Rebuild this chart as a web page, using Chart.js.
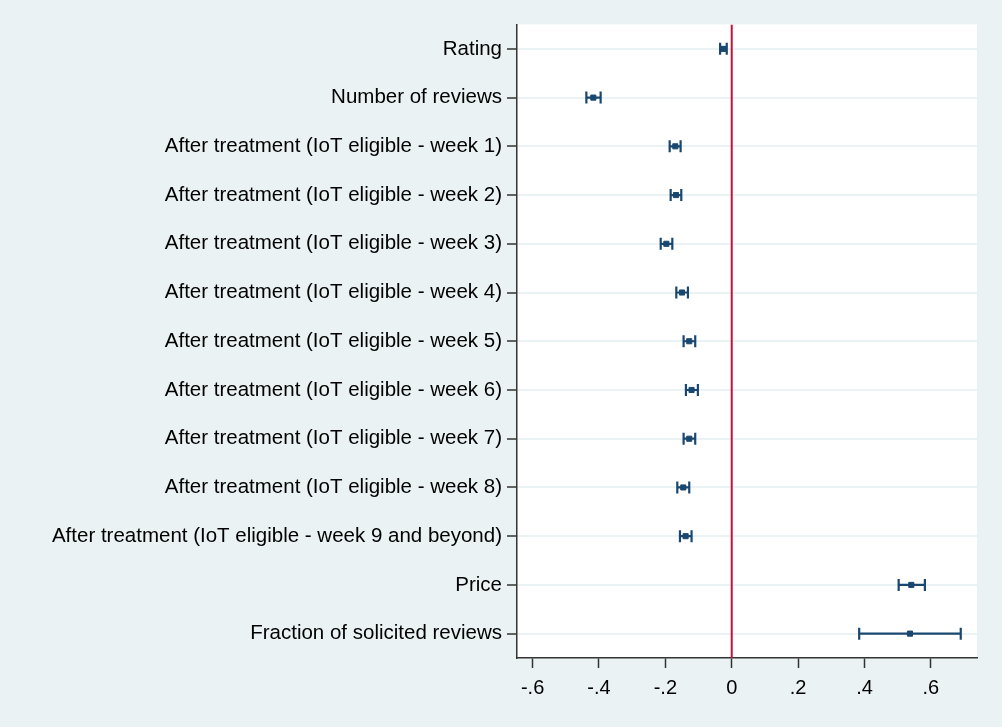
<!DOCTYPE html>
<html>
<head>
<meta charset="utf-8">
<script src="https://cdn.jsdelivr.net/npm/chart.js@4/dist/chart.umd.min.js"></script>
<style>
  html, body { margin: 0; padding: 0; background: #eaf2f3; }
  #wrap { width: 1002px; height: 727px; }
</style>
</head>
<body>
<div id="wrap"><canvas id="c" width="1002" height="727"></canvas></div>
<script>
// Coefficient estimates with 95% confidence intervals
const categories = [
  'Rating',
  'Number of reviews',
  'After treatment (IoT eligible - week 1)',
  'After treatment (IoT eligible - week 2)',
  'After treatment (IoT eligible - week 3)',
  'After treatment (IoT eligible - week 4)',
  'After treatment (IoT eligible - week 5)',
  'After treatment (IoT eligible - week 6)',
  'After treatment (IoT eligible - week 7)',
  'After treatment (IoT eligible - week 8)',
  'After treatment (IoT eligible - week 9 and beyond)',
  'Price',
  'Fraction of solicited reviews'
];
const estimates = [-0.025, -0.417, -0.170, -0.168, -0.197, -0.150, -0.128, -0.121, -0.128, -0.146, -0.139, 0.541, 0.537];
const ciLow     = [-0.035, -0.438, -0.187, -0.184, -0.214, -0.167, -0.145, -0.138, -0.145, -0.164, -0.156, 0.503, 0.384];
const ciHigh    = [-0.015, -0.395, -0.154, -0.152, -0.179, -0.132, -0.110, -0.102, -0.110, -0.128, -0.121, 0.582, 0.690];
const xTicks = [-0.6, -0.4, -0.2, 0, 0.2, 0.4, 0.6];
const xTickLabels = ['-.6', '-.4', '-.2', '0', '.2', '.4', '.6'];

const navy = '#1a476f';
const FONT = "'Liberation Sans', Arial, sans-serif";

const datasets = [];

// reference line at zero
datasets.push({
  type: 'line',
  data: [{x: 0, y: 0.5}, {x: 0, y: categories.length + 0.5}],
  borderColor: '#c8103a',
  borderWidth: 2,
  pointRadius: 0,
  showLine: true,
  order: 3
});

// confidence interval whiskers with end caps
categories.forEach((c, i) => {
  datasets.push({
    type: 'line',
    data: [{x: ciLow[i], y: i + 1}, {x: ciHigh[i], y: i + 1}],
    borderColor: navy,
    borderWidth: 2.2,
    showLine: true,
    pointStyle: 'line',
    rotation: 90,
    pointRadius: 6,
    pointBorderWidth: 2.2,
    pointBorderColor: navy,
    order: 2
  });
});

// point estimates
datasets.push({
  type: 'scatter',
  data: estimates.map((v, i) => ({x: v, y: i + 1})),
  pointStyle: 'rect',
  pointRadius: 3.6,
  backgroundColor: navy,
  borderColor: navy,
  borderWidth: 1,
  order: 1
});

const backdrop = {
  id: 'backdrop',
  beforeDraw(chart) {
    const {ctx, chartArea: a} = chart;
    ctx.save();
    ctx.fillStyle = '#eaf2f3';
    ctx.fillRect(0, 0, chart.width, chart.height);
    ctx.fillStyle = '#ffffff';
    ctx.fillRect(a.left, a.top, a.right - a.left, a.bottom - a.top);
    ctx.restore();
  }
};

new Chart(document.getElementById('c'), {
  type: 'scatter',
  data: { datasets },
  plugins: [backdrop],
  options: {
    responsive: false,
    animation: false,
    layout: { padding: { left: 0, top: 24.5, right: 25, bottom: 0 } },
    plugins: { legend: { display: false }, tooltip: { enabled: false } },
    scales: {
      x: {
        type: 'linear',
        min: -0.647,
        max: 0.739,
        afterBuildTicks(scale) { scale.ticks = xTicks.map(v => ({value: v})); },
        afterFit(scale) { scale.height = 69; },
        ticks: {
          callback(v) { const k = xTicks.findIndex(t => Math.abs(t - v) < 1e-9); return k >= 0 ? xTickLabels[k] : ''; },
          color: '#000',
          font: { family: FONT, size: 20 },
          padding: 8,
          maxRotation: 0,
          autoSkip: false
        },
        grid: { drawOnChartArea: false, drawTicks: true, tickLength: 10, tickColor: '#333', tickWidth: 1.5 },
        border: { display: true, color: '#333', width: 1.5 }
      },
      y: {
        type: 'linear',
        reverse: true,
        min: 0.5,
        max: categories.length + 0.5,
        afterBuildTicks(scale) { scale.ticks = categories.map((c, i) => ({value: i + 1})); },
        afterFit(scale) { scale.width = 517; },
        ticks: {
          callback(v) { return categories[Math.round(v) - 1] || ''; },
          color: '#000',
          font: { family: FONT, size: 20.5 },
          padding: 5,
          autoSkip: false
        },
        grid: { drawOnChartArea: true, color: '#eaf2f3', lineWidth: 2, drawTicks: true, tickLength: 10, tickColor: '#333', tickWidth: 1.5 },
        border: { display: true, color: '#333', width: 1.5 }
      }
    }
  }
});
</script>
</body>
</html>
